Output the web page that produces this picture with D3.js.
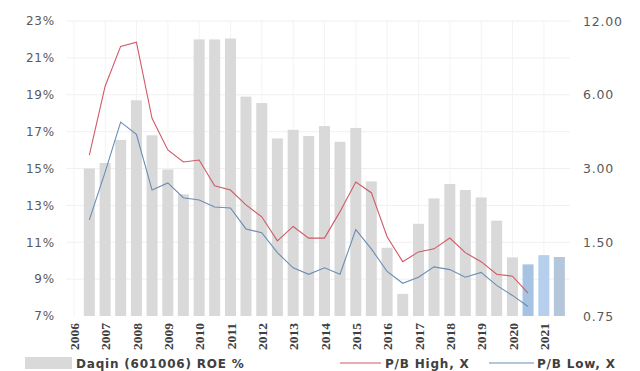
<!DOCTYPE html>
<html>
<head>
<meta charset="utf-8">
<script src="https://cdn.jsdelivr.net/npm/d3@7"></script>
<style>
  html, body { margin: 0; padding: 0; background: #ffffff; }
  svg { display: block; }
</style>
</head>
<body>
<svg id="chart" width="640" height="371"></svg>
<script>
// Half-year reporting periods (period end dates)
const periods = [
  "2006-06-30", "2006-12-31", "2007-06-30", "2007-12-31", "2008-06-30", "2008-12-31",
  "2009-06-30", "2009-12-31", "2010-06-30", "2010-12-31", "2011-06-30", "2011-12-31",
  "2012-06-30", "2012-12-31", "2013-06-30", "2013-12-31", "2014-06-30", "2014-12-31",
  "2015-06-30", "2015-12-31", "2016-06-30", "2016-12-31", "2017-06-30", "2017-12-31",
  "2018-06-30", "2018-12-31", "2019-06-30", "2019-12-31", "2020-06-30", "2020-12-31",
  "2021-06-30"
];

// Daqin (601006) ROE, %
const roe = [
  15.0, 15.3, 16.55, 18.7, 16.8, 14.95, 13.6, 22.0, 22.0, 22.05, 18.9, 18.55,
  16.63, 17.1, 16.76, 17.3, 16.45, 17.2, 14.3, 10.7, 8.2, 12.0, 13.38, 14.16,
  13.83, 13.43, 12.17, 10.18, 9.8, 10.3, 10.2
];

// Price-to-book multiples (x), high and low over each period
const pbHigh = [
  3.40, 6.5, 9.45, 9.84, 4.81, 3.57, 3.19, 3.25, 2.55, 2.45, 2.13, 1.905,
  1.52, 1.74, 1.56, 1.56, 2.0, 2.64, 2.39, 1.58, 1.25, 1.37, 1.41, 1.56,
  1.36, 1.25, 1.11, 1.09, 0.93, null, null
];
const pbLow = [
  1.85, 2.9, 4.64, 4.14, 2.45, 2.62, 2.28, 2.23, 2.09, 2.07, 1.70, 1.64,
  1.36, 1.18, 1.11, 1.18, 1.11, 1.69, 1.41, 1.14, 1.02, 1.08, 1.19, 1.16,
  1.08, 1.13, 1.0, 0.91, 0.82, null, null
];

// Periods shown as estimates (shaded blue)
const estimatePeriods = ["2020-06-30", "2020-12-31", "2021-06-30"];

const yearTicks = d3.range(2006, 2022);
const roeTicks = [7, 9, 11, 13, 15, 17, 19, 21, 23];
const pbTicks = [0.75, 1.5, 3, 6, 12];

const legendLabels = ["Daqin (601006) ROE %", "P/B High, X", "P/B Low, X"];

const parse = d3.timeParse("%Y-%m-%d");
const dates = periods.map(parse);

const svg = d3.select("#chart");
const plot = { left: 66, right: 570, top: 21, bottom: 316 };

const x = d3.scaleTime()
  .domain([new Date(2005, 9, 1), new Date(2021, 10, 1)])
  .range([plot.left, plot.right]);
const yL = d3.scaleLinear().domain([7, 23]).range([plot.bottom, plot.top]);
const yR = d3.scaleLog().domain([0.75, 12]).range([plot.bottom, plot.top]);

const tickColor = "#595959";
const highColor = "#d05a66";
const lowColor = "#6a8db5";
const barW = 11;

// gridlines
const grid = svg.append("g");
grid.selectAll("line.h").data(roeTicks.slice(1)).join("line")
  .attr("x1", plot.left).attr("x2", plot.right)
  .attr("y1", d => yL(d)).attr("y2", d => yL(d))
  .attr("stroke", "#f0f0f0").attr("stroke-width", 1);
grid.selectAll("line.v").data(yearTicks).join("line")
  .attr("x1", d => x(new Date(d, 0, 1))).attr("x2", d => x(new Date(d, 0, 1)))
  .attr("y1", plot.top).attr("y2", plot.bottom)
  .attr("stroke", "#f3f3f3").attr("stroke-width", 1);

// bars
const estColor = { "2020-06-30": "#a7c3e3", "2020-12-31": "#b5cfec", "2021-06-30": "#b3c6da" };
svg.append("g").selectAll("rect").data(roe).join("rect")
  .attr("x", (d, i) => x(dates[i]) - barW / 2)
  .attr("width", barW)
  .attr("y", d => yL(d))
  .attr("height", d => yL(7) - yL(d))
  .attr("fill", (d, i) => estimatePeriods.includes(periods[i]) ? estColor[periods[i]] : "#d9d9d9");

// lines
const line = d3.line()
  .defined(d => d.v != null)
  .x(d => x(d.t))
  .y(d => yR(d.v));
svg.append("path")
  .datum(pbHigh.map((v, i) => ({ t: dates[i], v })))
  .attr("d", line).attr("fill", "none")
  .attr("stroke", highColor).attr("stroke-width", 1.1);
svg.append("path")
  .datum(pbLow.map((v, i) => ({ t: dates[i], v })))
  .attr("d", line).attr("fill", "none")
  .attr("stroke", lowColor).attr("stroke-width", 1.1);

// left axis
const leftAxis = d3.axisLeft(yL).tickValues(roeTicks).tickFormat(d => d + "%").tickSize(0);
const gl = svg.append("g").attr("transform", "translate(55,0)").call(leftAxis);
gl.select(".domain").remove();
gl.selectAll("text")
  .attr("x", 0)
  .attr("fill", tickColor)
  .style("font-family", "DejaVu Sans")
  .style("font-size", "12px")
  .style("letter-spacing", "0.8px");

// right axis
const rightAxis = d3.axisRight(yR).tickValues(pbTicks).tickFormat(d3.format(".2f")).tickSize(0);
const gr = svg.append("g").attr("transform", "translate(583,0)").call(rightAxis);
gr.select(".domain").remove();
gr.selectAll("text")
  .attr("x", 0)
  .attr("fill", tickColor)
  .style("font-family", "DejaVu Sans")
  .style("font-size", "12.5px")
  .style("letter-spacing", "0.8px");

// year axis (rotated labels)
const bottomAxis = d3.axisBottom(x)
  .tickValues(yearTicks.map(yv => new Date(yv, 0, 1)))
  .tickFormat(d3.timeFormat("%Y"))
  .tickSize(0);
const gb = svg.append("g").attr("transform", `translate(0,${plot.bottom})`).call(bottomAxis);
gb.select(".domain").remove();
gb.selectAll("text")
  .attr("transform", "rotate(-90)")
  .attr("x", -7)
  .attr("y", 0)
  .attr("dy", "0.35em")
  .attr("text-anchor", "end")
  .attr("fill", "#404040")
  .style("font-family", "Liberation Serif")
  .style("font-weight", "bold")
  .style("font-size", "13.5px");

// legend
const lg = svg.append("g").style("font-family", "DejaVu Sans").style("font-weight", "bold")
  .style("font-size", "12px").style("letter-spacing", "0.8px").attr("fill", "#404040");
lg.append("rect").attr("x", 25).attr("y", 357).attr("width", 47).attr("height", 12).attr("fill", "#d9d9d9");
lg.append("text").attr("x", 76).attr("y", 367.5).text(legendLabels[0]);
lg.append("line").attr("x1", 340).attr("x2", 381).attr("y1", 363).attr("y2", 363)
  .attr("stroke", highColor).attr("stroke-width", 1.1);
lg.append("text").attr("x", 385).attr("y", 367.5).text(legendLabels[1]);
lg.append("line").attr("x1", 489).attr("x2", 534).attr("y1", 363).attr("y2", 363)
  .attr("stroke", lowColor).attr("stroke-width", 1.1);
lg.append("text").attr("x", 537).attr("y", 367.5).text(legendLabels[2]);
</script>
</body>
</html>
